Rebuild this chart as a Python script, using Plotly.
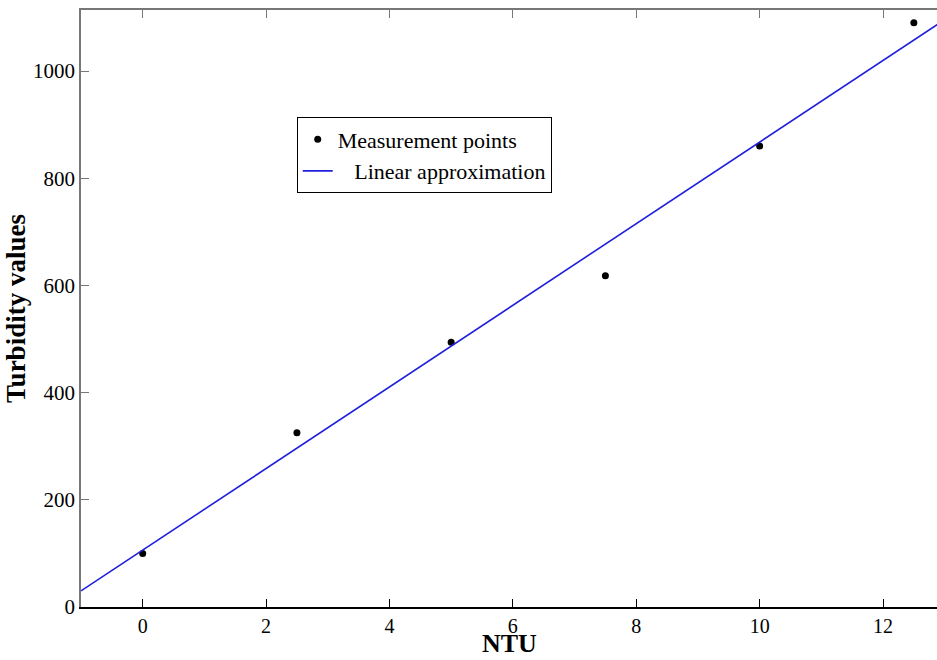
import plotly.graph_objects as go

ntu = [0, 2.5, 5, 7.5, 10, 12.5]
turbidity = [100, 325, 494, 618, 860, 1090]

# Linear approximation endpoints
fit_x = [-1, 13]
fit_y = [30, 1096]

x_ticks = [0, 2, 4, 6, 8, 10, 12]
y_ticks = [0, 200, 400, 600, 800, 1000]

serif = "Liberation Serif, Times New Roman, serif"

fig = go.Figure()
fig.add_trace(go.Scatter(
    x=ntu, y=turbidity, mode="markers", name="Measurement points",
    marker=dict(color="black", size=7),
))
fig.add_trace(go.Scatter(
    x=fit_x, y=fit_y, mode="lines", name="\u00a0\u00a0\u00a0Linear approximation",
    line=dict(color="#1f1fdc", width=1.6),
))
# invisible trace for the top axis
fig.add_trace(go.Scatter(x=[ntu[0]], y=[turbidity[0]], xaxis="x2", mode="markers",
                         marker=dict(opacity=0), showlegend=False, hoverinfo="skip"))

fig.update_layout(
    width=937, height=660,
    margin=dict(l=81, r=0, t=10, b=53),
    paper_bgcolor="white", plot_bgcolor="white",
    font=dict(family=serif, size=21, color="black"),
    showlegend=True,
    legend=dict(
        x=0.252, y=0.82, xanchor="left", yanchor="top",
        bordercolor="black", borderwidth=1, bgcolor="white",
        font=dict(family=serif, size=22, color="black"),
        tracegroupgap=0,
    ),
    xaxis=dict(
        range=[-1, 12.875], tickvals=x_ticks, ticks="inside", ticklen=8,
        tickcolor="black", showline=True, linecolor="black", linewidth=1.5,
        showgrid=False, zeroline=False, automargin=False,
        tickfont=dict(size=20),
    ),
    xaxis2=dict(
        range=[-1, 12.875], tickvals=x_ticks, ticks="inside", ticklen=8,
        tickcolor="#777", showline=True, linecolor="#777", linewidth=1.5,
        showticklabels=False, showgrid=False, zeroline=False, automargin=False,
        overlaying="x", side="top", matches="x",
    ),
    yaxis=dict(
        range=[0, 1114], tickvals=y_ticks, ticks="inside", ticklen=8,
        tickcolor="#777", showline=True, linecolor="#777", linewidth=1.5,
        showgrid=False, zeroline=False, automargin=False,
        title=dict(text="<b>Turbidity values</b>", font=dict(family=serif, size=27), standoff=0),
    ),
    annotations=[dict(
        text="<b>NTU</b>", xref="paper", yref="paper", x=0.5, y=-53 / 597,
        xanchor="center", yanchor="bottom", showarrow=False,
        font=dict(family=serif, size=26, color="black"),
    )],
)

fig.write_html("out.html")
